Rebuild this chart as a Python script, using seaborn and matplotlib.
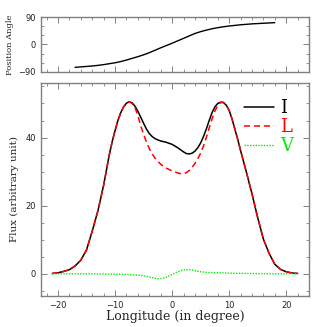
import numpy as np
import pandas as pd
import seaborn as sns
import matplotlib
matplotlib.use('Agg')
import matplotlib.pyplot as plt
from matplotlib.ticker import MultipleLocator

# position angle swing (top panel)
pa_lon = [-17, -16, -15, -14, -13, -12, -11, -10, -9, -8, -7, -6, -5, -4, -3, -2, -1,
          0, 1, 2, 3, 4, 5, 6, 7, 8, 9, 10, 11, 12, 13, 14, 15, 16, 17, 18]
pa_val = [-75, -73.5, -72, -70.5, -68.5, -66, -63, -60, -56, -51, -45.5, -40, -34, -27, -19, -11, -3.5,
          4, 12, 20, 28, 36, 42, 47, 51.5, 55, 58, 60.5, 62.5, 64.5, 66, 67.5, 68.5, 69.5, 70.5, 71.5]

# flux profiles (bottom panel), read finer around the peaks
lon = [-21, -20, -19, -18, -17, -16, -15, -14, -13, -12, -11,
       -10.5, -10, -9.5, -9, -8.5, -8, -7.5, -7, -6.5, -6, -5.5, -5, -4.5, -4, -3.5, -3, -2.5, -2,
       -1.5, -1, -0.5, 0, 0.5, 1, 1.5, 2, 2.5, 3, 3.5, 4, 4.5, 5, 5.5, 6, 6.5, 7, 7.5, 8, 8.5, 9,
       9.5, 10, 10.5, 11, 11.5,
       12, 13, 14, 15, 16, 17, 18, 19, 20, 21, 22]
flux_I = [0.1, 0.3, 0.7, 1.2, 2.3, 4.0, 7.0, 12.5, 18.5, 26, 35,
          38.8, 42, 45, 47.3, 49, 50.1, 50.5, 50.2, 49.2, 47.7, 46, 44.2, 42.5, 41.2, 40.3, 39.7, 39.3, 39,
          38.8, 38.6, 38.3, 38, 37.5, 37, 36.4, 35.8, 35.3, 35.2, 35.4, 36, 37, 38.4, 40.3, 42.5, 45, 47.3,
          49, 50, 50.4, 50.3, 49.5, 48, 45.5, 42.5, 39.5,
          36.2, 30, 23.5, 16.5, 10.2, 6, 2.8, 1.3, 0.6, 0.25, 0.1]
flux_L = [0.1, 0.3, 0.7, 1.2, 2.3, 4.0, 7.0, 12.5, 18.5, 26, 35,
          38.8, 42, 45, 47.3, 49, 50.1, 50.5, 50.0, 48.8, 46.5, 43.5, 41, 38.7, 36.8, 35.2, 34, 33, 32.2,
          31.5, 31, 30.6, 30.2, 29.9, 29.6, 29.4, 29.4, 29.7, 30.3, 31.2, 32.4, 33.8, 35.4, 37.5, 40, 42.8,
          45.5, 47.8, 49.4, 50.3, 50.3, 49.5, 48, 45.5, 42.5, 39.5,
          36.2, 30, 23.5, 16.5, 10.2, 6, 2.8, 1.3, 0.6, 0.25, 0.1]
flux_V = [0, 0, 0, 0, 0, 0, 0, 0, -0.05, -0.05, -0.1,
          -0.1, -0.1, -0.12, -0.15, -0.18, -0.2, -0.25, -0.3, -0.35, -0.4, -0.5, -0.6, -0.75, -0.9, -1.1,
          -1.3, -1.45, -1.4, -1.25, -1.0, -0.6, -0.2, 0.2, 0.6, 0.9, 1.1, 1.2, 1.2, 1.1, 0.9, 0.75, 0.6,
          0.5, 0.4, 0.38, 0.35, 0.32, 0.3, 0.28, 0.25, 0.22, 0.2, 0.18, 0.15, 0.15,
          0.15, 0.1, 0.1, 0.05, 0.05, 0, 0, 0, 0, 0, 0]

df = pd.DataFrame({'lon': lon, 'I': flux_I, 'L': flux_L, 'V': flux_V})
pa = pd.DataFrame({'lon': pa_lon, 'pa': pa_val})

sns.set_style('ticks')
plt.rcParams['font.family'] = ['DejaVu Sans']
spine_col = '#808080'

fig = plt.figure(figsize=(3.27, 3.27), dpi=100)
ax_top = fig.add_axes([0.125, 0.78, 0.82, 0.168])
ax = fig.add_axes([0.125, 0.095, 0.82, 0.651])

def style_axes(a):
    for s in a.spines.values():
        s.set_color(spine_col)
        s.set_linewidth(1.0)
    a.tick_params(which='both', direction='in', top=True, right=True, colors=spine_col,
                  labelcolor='#222222', labelsize=6)
    a.tick_params(which='major', length=4, width=0.7)
    a.tick_params(which='minor', length=2, width=0.6)
    a.xaxis.set_major_locator(MultipleLocator(10))
    a.xaxis.set_minor_locator(MultipleLocator(2))

sns.lineplot(data=pa, x='lon', y='pa', ax=ax_top, color='black', linewidth=1.0)
ax_top.set_xlim(-23, 24)
ax_top.set_ylim(-90, 90)
style_axes(ax_top)
ax_top.yaxis.set_major_locator(MultipleLocator(90))
ax_top.yaxis.set_minor_locator(MultipleLocator(30))
ax_top.set_xticklabels([])
ax_top.set_xlabel('')
ax_top.set_ylabel('Position Angle', fontsize=6, family='DejaVu Serif', labelpad=3)

sns.lineplot(data=df, x='lon', y='I', ax=ax, color='black', linewidth=1.1, label='I')
sns.lineplot(data=df, x='lon', y='L', ax=ax, color='red', linewidth=1.1, linestyle=(0, (4, 2.5)), label='L')
sns.lineplot(data=df, x='lon', y='V', ax=ax, color='#00ee00', linewidth=1.0, linestyle=(0, (1, 1)), label='V')
ax.set_xlim(-23, 24)
ax.set_ylim(-6.5, 56)
style_axes(ax)
ax.yaxis.set_major_locator(MultipleLocator(20))
ax.yaxis.set_minor_locator(MultipleLocator(5))
ax.set_xlabel('Longitude (in degree)', fontsize=9, family='DejaVu Serif', labelpad=0)
ax.set_ylabel('Flux (arbitrary unit)', fontsize=7.5, family='DejaVu Serif', labelpad=5)

leg = ax.legend(loc='upper right', bbox_to_anchor=(1.0, 1.0), frameon=False,
                handlelength=1.7, handletextpad=0.3, labelspacing=0.05, labelcolor='linecolor',
                prop={'family': 'DejaVu Serif', 'size': 13})

fig.savefig('out.png', dpi=100)
